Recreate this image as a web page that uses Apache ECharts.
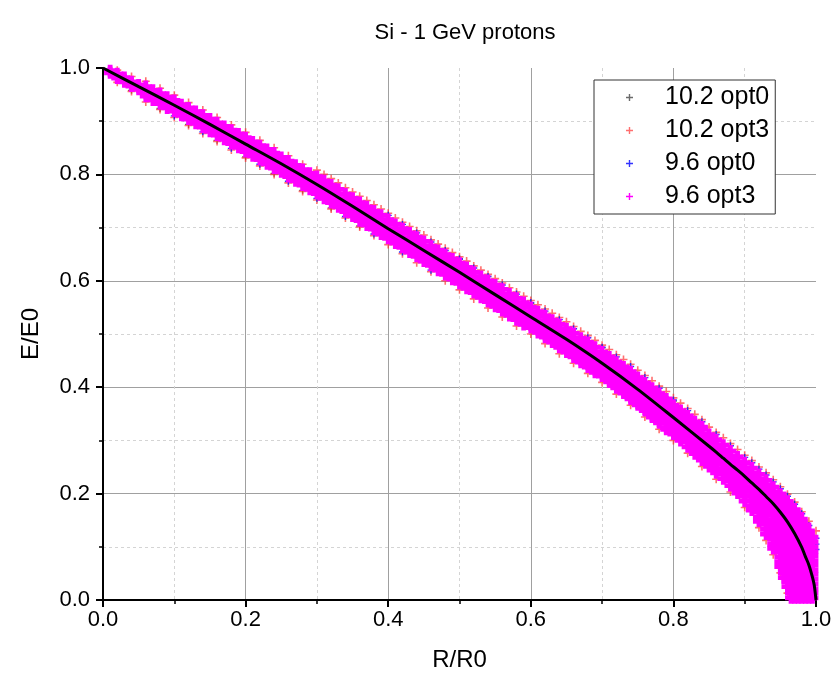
<!DOCTYPE html>
<html><head><meta charset="utf-8">
<script src="https://cdn.jsdelivr.net/npm/echarts@6/dist/echarts.min.js"></script>
<style>html,body{margin:0;padding:0;background:#fff}#c{width:835px;height:686px}</style>
</head><body><div id="c"></div>
<script>
const chartTitle = 'Si - 1 GeV protons';
const xName = 'R/R0';
const yName = 'E/E0';
const seriesNames = ['10.2 opt0', '10.2 opt3', '9.6 opt0', '9.6 opt3'];
const xTicks = [0, 0.2, 0.4, 0.6, 0.8, 1.0];
const yTicks = [0, 0.2, 0.4, 0.6, 0.8, 1.0];

// black reference curve
const lineX = [0, 0.05, 0.1, 0.15, 0.2, 0.25, 0.3, 0.35, 0.4, 0.45, 0.5, 0.55, 0.6, 0.65, 0.7, 0.75, 0.8, 0.85, 0.86, 0.87, 0.88, 0.89, 0.9, 0.91, 0.92, 0.93, 0.94, 0.95, 0.96, 0.97, 0.98, 0.985, 0.99, 0.995, 0.9975, 1.0];
const lineY = [1.0, 0.965, 0.930, 0.894, 0.857, 0.820, 0.781, 0.740, 0.698, 0.657, 0.616, 0.574, 0.532, 0.490, 0.445, 0.396, 0.343, 0.289, 0.278, 0.2665, 0.255, 0.244, 0.2325, 0.220, 0.208, 0.1945, 0.181, 0.165, 0.147, 0.125, 0.099, 0.082, 0.066, 0.043, 0.028, 0.0];

// scatter rows: [x, y1, y2, ...]
const grayRows = [
 [0.04,.958],[0.08,.924],[0.12,.894],[0.16,.864],[0.20,.833],[0.24,.802],[0.28,.770],[0.32,.737],[0.36,.703],
 [0.50,.641],[0.60,.557],[0.70,.474],[0.80,.374]
];
const redRows = [
 [0.02,.996,.973],[0.04,.984,.956],[0.06,.975,.936],[0.08,.962,.922],[0.10,.949,.907],[0.12,.935,.892],[0.14,.921,.877],
 [0.16,.907,.862],[0.18,.893,.846],[0.20,.879,.831],[0.22,.864,.816],[0.24,.850,.800],[0.26,.835,.784],[0.28,.819,.768],
 [0.30,.808,.752],[0.31,.800],[0.32,.792,.735],[0.33,.784],[0.34,.775,.718],[0.35,.767],[0.36,.759,.701],[0.37,.751],
 [0.38,.743,.685],[0.39,.735],[0.40,.727,.668],[0.41,.718],[0.42,.710,.651],[0.43,.702],[0.44,.694,.634],[0.45,.686],
 [0.46,.677,.617],[0.47,.669],[0.48,.661,.600],[0.49,.653],[0.50,.645,.583],[0.51,.637],[0.52,.628,.566],[0.53,.620],
 [0.54,.612,.549],[0.55,.604],[0.56,.596,.532],[0.57,.587],[0.58,.579,.515],[0.59,.571],[0.60,.563,.500],[0.61,.555],
 [0.62,.547,.482],[0.63,.539],[0.64,.531,.463],[0.65,.523],[0.66,.514,.445],[0.67,.505],[0.68,.497,.426],[0.69,.488],
 [0.70,.479,.409],[0.71,.471],[0.72,.461,.387],[0.73,.452],[0.74,.443,.366],[0.75,.432],[0.76,.422,.344],[0.77,.412],
 [0.78,.402,.321],[0.79,.392],[0.80,.380,.300],[0.81,.370],[0.82,.360,.276],[0.83,.349],[0.84,.339,.251],[0.85,.325],
 [0.86,.315,.227],[0.87,.305],[0.88,.294,.203],[0.89,.283],[0.90,.272,.174],[0.91,.262],[0.92,.250,.136],[0.93,.239,.112],
 [0.94,.226,.085],[0.95,.213,.051],[0.96,.199,.013],[0.97,.184],[0.98,.166],[0.99,.148],[1.0,.130]
];
const blueRows = [
 [0.10,.910],[0.14,.880],[0.18,.849],[0.22,.819],[0.26,.787],[0.30,.755],[0.34,.721],[0.38,.688],
 [0.40,.723],[0.42,.706,.654],[0.44,.690],[0.46,.673,.620],[0.48,.657],[0.50,.641],[0.52,.624],[0.54,.608],[0.56,.592],
 [0.58,.575],[0.60,.559],[0.62,.543],[0.64,.527],[0.66,.510],[0.68,.493],[0.70,.475],[0.72,.457],[0.74,.439],
 [0.76,.418],[0.78,.398],[0.80,.376],[0.82,.356],[0.84,.335],[0.86,.311],[0.88,.290],[0.90,.268],[0.91,.258],
 [0.92,.246],[0.93,.235],[0.94,.222],[0.95,.209],[0.96,.195],[0.97,.180],[0.98,.162],[0.99,.140],[1.0,.116,.105,.095]
];
const magentaRows = [
 [0.01,.995,.991],[0.02,.989,.985,.981],[0.03,.982,.978,.974],[0.04,.974,.970,.966],[0.05,.968,.964,.960],
 [0.06,.965,.958,.954,.947],[0.07,.958,.951,.947,.940],[0.08,.952,.945,.940,.933],[0.09,.945,.938,.932,.925],
 [0.10,.939,.932,.926,.919],[0.11,.931,.924,.918,.911],[0.12,.925,.918,.911,.904],[0.13,.918,.911,.903,.896],
 [0.14,.911,.904,.896,.889],[0.15,.904,.897,.888,.881],[0.16,.897,.890,.881,.874],[0.17,.890,.883,.873,.866],
 [0.18,.883,.876,.870,.865,.858],[0.19,.876,.869,.863,.858,.851],[0.20,.869,.862,.856,.850,.843],
 [0.21,.861,.854,.848,.842,.835],[0.22,.854,.847,.841,.835,.828],[0.23,.847,.840,.833,.827,.820],
 [0.24,.840,.833,.826,.819,.812],[0.25,.832,.825,.818,.812,.805],[0.26,.825,.818,.810,.803,.796],
 [0.27,.817,.810,.802,.795,.788],[0.28,.809,.802,.794,.787,.780],[0.29,.802,.795,.787,.779,.772],
 [0.30,.796,.787,.779,.771,.764],[0.31,.788,.779,.770,.762,.755],[0.32,.780,.771,.762,.754,.747],
 [0.33,.772,.763,.754,.746,.739],[0.34,.763,.754,.745,.737,.730],[0.35,.755,.746,.737,.729,.722],
 [0.36,.747,.738,.729,.720,.713],[0.37,.739,.730,.721,.712,.705],[0.38,.731,.722,.713,.704,.697],
 [0.39,.723,.714,.704,.695,.688],[0.40,.715,.706,.696,.687,.680],[0.41,.706,.697,.687,.678,.671],
 [0.42,.698,.689,.679,.670,.663],[0.43,.690,.681,.674,.667,.661,.654],[0.44,.682,.673,.666,.659,.653,.646],
 [0.45,.674,.665,.658,.651,.644,.637],[0.46,.665,.656,.649,.642,.636,.629],[0.47,.657,.648,.641,.634,.627,.620],
 [0.48,.649,.640,.633,.626,.619,.612],[0.49,.641,.632,.624,.617,.610,.603],[0.50,.633,.624,.616,.609,.602,.595],
 [0.51,.625,.616,.608,.600,.593,.586],[0.52,.616,.607,.599,.592,.585,.578],[0.53,.608,.599,.591,.583,.576,.569],
 [0.54,.600,.591,.583,.575,.568,.561],[0.55,.592,.583,.575,.567,.559,.552],[0.56,.584,.575,.567,.559,.551,.544],
 [0.57,.575,.566,.558,.550,.542,.535],[0.58,.567,.558,.550,.542,.534,.527],[0.59,.559,.550,.541,.533,.525,.518],
 [0.60,.550,.541,.533,.525,.517,.512],[0.61,.542,.533,.524,.516,.508,.503],[0.62,.534,.525,.516,.507,.499,.494],
 [0.63,.526,.517,.508,.499,.490,.485],[0.64,.518,.509,.499,.490,.480,.475],[0.65,.510,.501,.493,.486,.478,.471,.466],
 [0.66,.501,.492,.484,.477,.469,.462,.457],[0.67,.492,.483,.475,.467,.459,.452,.447],
 [0.68,.484,.475,.467,.459,.451,.443,.438],[0.69,.475,.466,.457,.449,.441,.433,.428],
 [0.70,.466,.458,.449,.441,.432,.424,.421],[0.71,.457,.449,.440,.431,.422,.413,.410],
 [0.72,.447,.439,.430,.420,.411,.402,.399],[0.73,.438,.430,.422,.414,.407,.399,.392,.389],
 [0.74,.429,.421,.413,.405,.397,.389,.381,.378],[0.75,.418,.412,.403,.395,.386,.378,.370,.367],
 [0.76,.408,.402,.393,.385,.376,.367,.359,.356],[0.77,.398,.392,.383,.374,.365,.356,.347,.344],
 [0.78,.388,.382,.373,.363,.354,.345,.336,.333],[0.79,.378,.372,.364,.356,.348,.340,.332,.324,.321],
 [0.80,.366,.362,.353,.345,.337,.328,.320,.312],[0.81,.356,.352,.343,.334,.326,.317,.308,.300],
 [0.82,.346,.342,.333,.324,.315,.306,.297,.288],[0.83,.335,.331,.323,.315,.307,.298,.290,.282,.275],
 [0.84,.325,.321,.312,.304,.296,.288,.279,.271,.263],
 [0.85,.311,.302,.294,.285,.277,.268,.259,.251],[0.86,.301,.292,.283,.274,.265,.256,.247,.239],
 [0.87,.291,.282,.273,.264,.255,.246,.237,.228],[0.88,.280,.271,.261,.252,.243,.234,.224,.215],
 [0.89,.269,.260,.252,.243,.235,.226,.218,.209,.201],[0.90,.258,.249,.240,.231,.222,.213,.204,.195,.186],
 [0.91,.248,.239,.230,.221,.212,.204,.195,.186,.177,.169],
 [0.92,.236,.227,.218,.209,.200,.192,.183,.174,.165,.156,.148],
 [0.93,.225,.216,.206,.197,.188,.179,.169,.160,.151,.142,.133,.124],
 [0.94,.212,.203,.194,.185,.176,.168,.159,.150,.141,.132,.123,.114,.105,.097],
 [0.95,.199,.190,.180,.171,.162,.153,.144,.135,.126,.117,.108,.099,.090,.081,.072,.063],
 [0.955,.192,.182,.173,.164,.154,.145,.135,.126,.117,.107,.098,.089,.079,.070,.060,.051,.042],
 [0.96,.185,.175,.166,.156,.147,.138,.128,.119,.109,.100,.091,.081,.072,.062,.053,.044,.034,.025],
 [0.965,.178,.169,.160,.150,.141,.132,.123,.114,.105,.096,.087,.077,.068,.059,.050,.041,.032,.023,.013,.004],
 [0.97,.170,.161,.151,.142,.133,.124,.115,.105,.096,.087,.078,.069,.059,.050,.041,.032,.023,.013,.004],
 [0.975,.161,.151,.142,.133,.124,.115,.106,.096,.087,.078,.069,.060,.050,.041,.032,.023,.014,.004],
 [0.98,.152,.142,.133,.124,.115,.106,.096,.087,.078,.069,.060,.050,.041,.032,.023,.013,.004],
 [0.985,.141,.132,.122,.113,.104,.095,.086,.077,.068,.059,.050,.041,.032,.022,.013,.004],
 [0.99,.130,.121,.112,.103,.094,.085,.076,.067,.058,.049,.040,.031,.022,.013,.004],
 [0.995,.118,.109,.100,.091,.083,.074,.065,.056,.048,.039,.030,.021,.013,.004]
];

function rowsToPoints(rows) {
  const pts = [];
  rows.forEach(r => { for (let i = 1; i < r.length; i++) pts.push([r[0], r[i]]); });
  return pts;
}

const plusThin = 'path://M4,0H6V4H10V6H6V10H4V6H0V4H4Z';
const plusThick = 'path://M3,0H7V3H10V7H7V10H3V7H0V3H3Z';
const FONT = 'Liberation Sans, Arial, sans-serif';

const chart = echarts.init(document.getElementById('c'), null, {renderer: 'canvas'});

function axisCommon(name, gap) {
  return {
    type: 'value', min: 0, max: 1, interval: 0.2,
    name: name, nameLocation: 'middle', nameGap: gap,
    nameTextStyle: {fontSize: 24, color: '#000', fontFamily: FONT},
    axisLine: {show: true, onZero: false, lineStyle: {color: '#000', width: 2}},
    axisTick: {show: true, inside: false, length: 7, lineStyle: {color: '#000', width: 2}},
    minorTick: {show: true, splitNumber: 2, length: 4, lineStyle: {color: '#000', width: 1.5}},
    splitLine: {show: true, showMaxLine: false, lineStyle: {color: '#a0a0a0', width: 1}},
    minorSplitLine: {show: true, lineStyle: {color: '#d4d4d4', width: 1, type: [3, 3]}},
    axisLabel: {fontSize: 22, color: '#000', fontFamily: FONT, formatter: v => v.toFixed(1)}
  };
}

const xAxis = axisCommon(xName, 48);
xAxis.axisLabel.margin = 9;
const yAxis = axisCommon(yName, 60);
yAxis.axisLabel.margin = 13;

const colors = ['rgba(70,70,70,0.8)', 'rgba(255,50,50,0.7)', 'rgba(30,30,255,0.9)', '#ff00ff'];
const rowsList = [grayRows, redRows, blueRows, magentaRows];
const sizes = [7, 8, 7, 12];

const series = seriesNames.map((n, i) => ({
  name: n, type: 'scatter',
  data: rowsToPoints(rowsList[i]),
  symbol: i === 3 ? plusThick : plusThin,
  symbolSize: sizes[i],
  itemStyle: {color: colors[i], opacity: 1},
  emphasis: {disabled: true},
  z: 2 + i
}));
series.push({
  name: 'curve', type: 'line',
  data: lineX.map((x, i) => [x, lineY[i]]),
  showSymbol: false, smooth: 0.3,
  lineStyle: {color: '#000', width: 3},
  z: 10
});

chart.setOption({
  animation: false,
  backgroundColor: '#fff',
  title: {
    text: chartTitle, left: 460, top: 17, textAlign: 'center',
    textStyle: {fontSize: 22, fontWeight: 'normal', color: '#000', fontFamily: FONT}
  },
  grid: {left: 103, right: 19, top: 68, bottom: 86, containLabel: false},
  xAxis: xAxis,
  yAxis: yAxis,
  legend: {
    orient: 'vertical', left: 594, top: 80,
    backgroundColor: '#fff', borderColor: '#333', borderWidth: 1,
    padding: [5, 6, 5, 32],
    itemWidth: 7, itemHeight: 7, itemGap: 8,
    textStyle: {fontSize: 25, color: '#000', fontFamily: FONT, lineHeight: 24, padding: [0, 0, 0, 27]},
    data: seriesNames.map(n => ({name: n, icon: plusThin})),
    selectedMode: false
  },
  series: series
});
</script></body></html>
